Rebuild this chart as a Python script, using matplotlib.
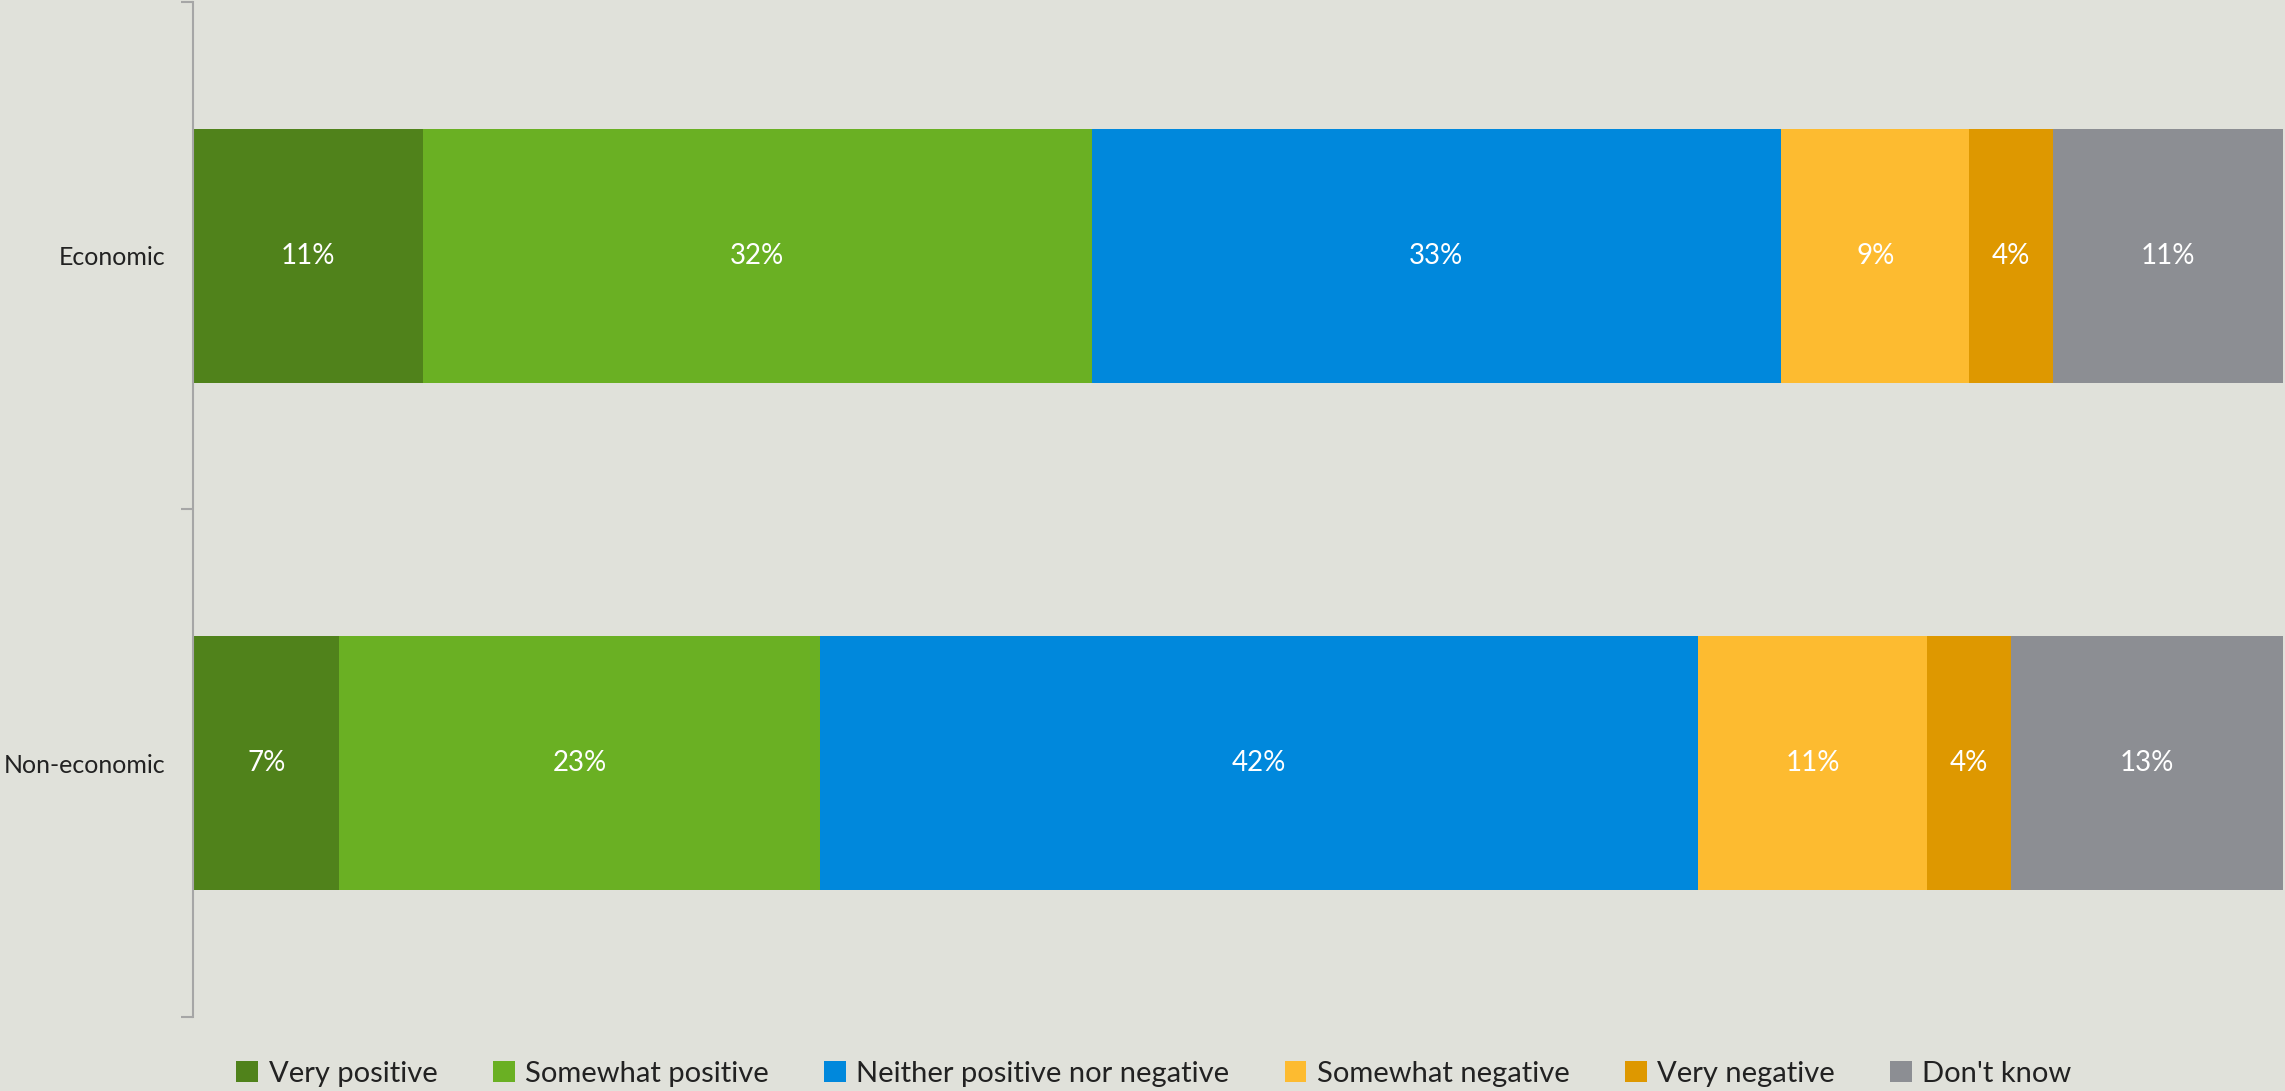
import matplotlib
matplotlib.use("Agg")
from matplotlib import pyplot as plt
from matplotlib.patches import Patch

categories = ["Economic", "Non-economic"]
responses = ["Very positive", "Somewhat positive", "Neither positive nor negative",
             "Somewhat negative", "Very negative", "Don't know"]
economic = [11, 32, 33, 9, 4, 11]
non_economic = [7, 23, 42, 11, 4, 13]
colors = ["#50821B", "#6AB023", "#0088DC", "#FDBB30", "#DE9800", "#8C8E93"]

bg = "#E0E1DA"
plt.rcParams["font.family"] = ["Lato", "DejaVu Sans"]

fig = plt.figure(figsize=(22.85, 10.91), dpi=100, facecolor=bg)
ax = fig.add_axes([0.0845, 0.068, 0.9145, 0.93])
ax.set_facecolor(bg)

values = [economic, non_economic]
for i, resp in enumerate(responses):
    widths = [v[i] for v in values]
    lefts = [sum(v[:i]) for v in values]
    bars = ax.barh(range(len(categories)), widths, left=lefts, height=0.5,
                   color=colors[i], label=resp)
    for b, w in zip(bars, widths):
        ax.text(b.get_x() + b.get_width() / 2, b.get_y() + b.get_height() / 2,
                f"{w}%", ha="center", va="center", color="white", fontsize=20)

ax.set_xlim(0, 100)
ax.set_ylim(1.5, -0.5)
ax.set_xticks([])
ax.set_yticks([-0.5, 0.5, 1.5])
ax.set_yticklabels([])
ax.set_yticks([0, 1], minor=True)
ax.set_yticklabels(categories, minor=True, fontsize=18, color="#222222")
ax.tick_params(axis="y", which="major", length=9, width=1.5, color="#A6A6A6")
ax.tick_params(axis="y", which="minor", length=0, pad=20)
for s in ["top", "right", "bottom"]:
    ax.spines[s].set_visible(False)
ax.spines["left"].set_color("#A6A6A6")
ax.spines["left"].set_linewidth(1.5)

handles = [Patch(facecolor=c, label=r) for c, r in zip(colors, responses)]
fig.legend(handles=handles, loc="center", bbox_to_anchor=(0.505, 0.016), ncol=6,
           frameon=False, fontsize=21, handlelength=0.75, handleheight=0.75,
           handletextpad=0.35, columnspacing=1.9, labelcolor="#222222")

fig.savefig("out.png", dpi=100, facecolor=bg)
